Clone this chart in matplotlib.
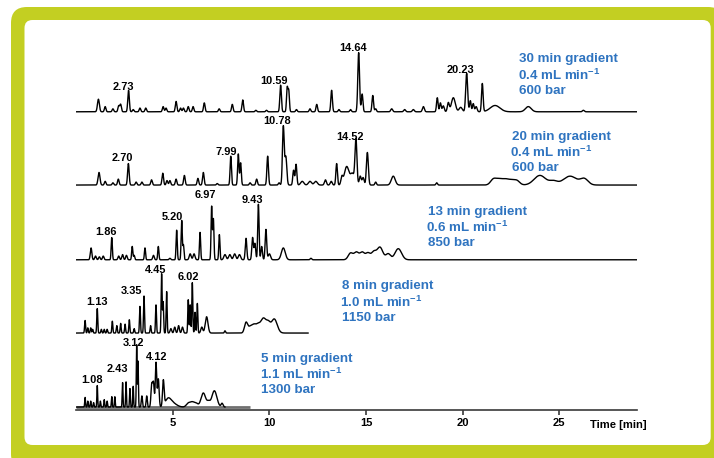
import numpy as np
import matplotlib.pyplot as plt
from matplotlib.patches import FancyBboxPatch

plt.rcParams['font.family'] = ['Liberation Sans', 'DejaVu Sans']
plt.rcParams['font.weight'] = 'bold'
plt.rcParams['mathtext.fontset'] = 'custom'
plt.rcParams['mathtext.rm'] = 'Liberation Sans:bold'
plt.rcParams['mathtext.bf'] = 'Liberation Sans:bold'

## peak tables: retention time [min], height, width
t30_rt = [1.15, 1.5, 1.9, 2.2, 2.3, 2.71, 2.95, 3.3, 3.6, 4.5, 4.65, 5.17, 5.4, 5.55, 5.8, 6.05, 6.63,
          7.4, 8.08, 8.62, 9.3, 9.85, 10.58, 10.92, 11.0, 11.4, 12.1, 12.45, 13.22, 13.6, 14.2, 14.62,
          14.8, 15.35, 15.5, 16.33, 17.0, 17.45, 17.97, 18.69, 18.85, 19.0, 19.26, 19.52, 19.9, 20.21,
          20.4, 20.55, 20.7, 21.02, 21.68, 23.4, 26.25]
t30_h = [0.17, 0.07, 0.04, 0.08, 0.1, 0.29, 0.03, 0.05, 0.05, 0.07, 0.05, 0.14, 0.05, 0.05, 0.07, 0.07, 0.12,
         0.04, 0.1, 0.16, 0.02, 0.02, 0.36, 0.32, 0.28, 0.03, 0.04, 0.1, 0.29, 0.03, 0.03, 0.8,
         0.24, 0.22, 0.04, 0.04, 0.03, 0.03, 0.07, 0.19, 0.12, 0.08, 0.12, 0.19, 0.06, 0.52,
         0.15, 0.11, 0.07, 0.38, 0.085, 0.07, 0.02]
t30_w = [0.05, 0.04, 0.04, 0.04, 0.04, 0.04, 0.04, 0.04, 0.04, 0.04, 0.04, 0.04, 0.04, 0.04, 0.04, 0.04, 0.04,
         0.04, 0.04, 0.04, 0.04, 0.04, 0.04, 0.035, 0.035, 0.04, 0.04, 0.04, 0.04, 0.04, 0.04, 0.045,
         0.04, 0.04, 0.04, 0.05, 0.05, 0.05, 0.05, 0.04, 0.04, 0.05, 0.05, 0.1, 0.08, 0.05,
         0.04, 0.04, 0.05, 0.04, 0.25, 0.15, 0.05]

t20_rt = [1.18, 1.5, 1.9, 2.18, 2.7, 3.1, 3.4, 3.9, 4.48, 4.7, 4.85, 5.17, 5.6, 6.3, 6.58, 7.3, 8.0, 8.39,
          8.51, 9.0, 9.34, 9.91, 10.5, 10.72, 10.85, 11.25, 11.38, 11.7, 12.1, 12.4, 12.9, 13.2, 13.48,
          13.75, 14.0, 14.3, 14.48, 14.7, 14.85, 15.07, 15.5, 16.41, 18.66, 21.6, 21.9, 22.2, 22.5,
          22.8, 24.0, 24.7, 25.56, 26.3]
t20_h = [0.17, 0.05, 0.03, 0.08, 0.29, 0.04, 0.04, 0.07, 0.16, 0.06, 0.06, 0.08, 0.13, 0.09, 0.17, 0.02, 0.39,
         0.42, 0.3, 0.03, 0.08, 0.39, 0.03, 0.79, 0.38, 0.2, 0.28, 0.05, 0.05, 0.05, 0.07, 0.05, 0.29,
         0.1, 0.25, 0.15, 0.6, 0.12, 0.1, 0.44, 0.04, 0.12, 0.03, 0.08, 0.07, 0.07, 0.06,
         0.06, 0.13, 0.05, 0.12, 0.08]
t20_w = [0.05, 0.04, 0.04, 0.04, 0.04, 0.04, 0.04, 0.04, 0.04, 0.04, 0.04, 0.04, 0.04, 0.04, 0.04, 0.04, 0.035,
         0.035, 0.035, 0.04, 0.04, 0.04, 0.04, 0.045, 0.05, 0.04, 0.04, 0.08, 0.08, 0.08, 0.05, 0.05, 0.04,
         0.05, 0.12, 0.1, 0.05, 0.05, 0.05, 0.05, 0.04, 0.1, 0.04, 0.15, 0.15, 0.15, 0.15,
         0.15, 0.3, 0.2, 0.35, 0.2]

t13_rt = [0.77, 1.0, 1.2, 1.4, 1.84, 2.2, 2.4, 2.6, 2.9, 3.0, 3.56, 4.0, 4.25, 4.85, 5.2, 5.46, 5.55, 5.9,
          6.1, 6.41, 7.01, 7.1, 7.41, 7.7, 7.95, 8.2, 8.45, 8.79, 9.13, 9.25, 9.43, 9.6, 9.82, 10.0,
          10.72, 12.15, 14.2, 14.5, 14.8, 15.1, 15.4, 15.72, 16.15, 16.67]
t13_h = [0.16, 0.05, 0.04, 0.05, 0.3, 0.05, 0.07, 0.06, 0.18, 0.06, 0.16, 0.06, 0.18, 0.02, 0.4, 0.53, 0.2, 0.08,
         0.08, 0.37, 0.72, 0.55, 0.34, 0.07, 0.07, 0.08, 0.07, 0.29, 0.3, 0.22, 0.75, 0.18, 0.41, 0.08,
         0.16, 0.02, 0.09, 0.1, 0.1, 0.09, 0.1, 0.17, 0.08, 0.15]
t13_w = [0.04, 0.04, 0.04, 0.04, 0.03, 0.04, 0.04, 0.04, 0.03, 0.03, 0.03, 0.04, 0.03, 0.04, 0.03, 0.03, 0.03, 0.05,
         0.05, 0.03, 0.03, 0.03, 0.03, 0.06, 0.06, 0.06, 0.06, 0.04, 0.04, 0.04, 0.035, 0.04, 0.04, 0.06,
         0.1, 0.04, 0.12, 0.12, 0.12, 0.12, 0.12, 0.15, 0.12, 0.17]

t8_rt = [0.46, 0.6, 0.75, 0.85, 1.09, 1.3, 1.45, 1.6, 1.87, 2.1, 2.3, 2.53, 2.75, 3.0, 3.3, 3.51, 3.85, 4.13,
         4.42, 4.5, 4.68, 4.9, 5.1, 5.3, 5.5, 5.8, 5.9, 6.01, 6.15, 6.27, 6.5, 6.75, 7.7, 8.79, 9.0, 9.2,
         9.4, 9.69, 9.95, 10.25]
t8_h = [0.17, 0.07, 0.07, 0.05, 0.33, 0.05, 0.05, 0.05, 0.16, 0.1, 0.13, 0.12, 0.18, 0.06, 0.36, 0.5, 0.1, 0.38,
        0.8, 0.42, 0.56, 0.06, 0.08, 0.1, 0.08, 0.45, 0.38, 0.68, 0.28, 0.4, 0.08, 0.22, 0.03, 0.14, 0.08, 0.1,
        0.09, 0.2, 0.1, 0.19]
t8_w = [0.025, 0.025, 0.025, 0.025, 0.025, 0.025, 0.025, 0.025, 0.025, 0.025, 0.025, 0.025, 0.025, 0.025, 0.025,
        0.025, 0.025, 0.025, 0.025, 0.025, 0.025, 0.04, 0.04, 0.04, 0.04, 0.025, 0.025, 0.025, 0.025, 0.025,
        0.05, 0.07, 0.03, 0.08, 0.1, 0.1, 0.1, 0.15, 0.1, 0.15]

t5_rt = [0.46, 0.6, 0.75, 0.9, 1.09, 1.25, 1.45, 1.6, 1.84, 2.0, 2.4, 2.58, 2.78, 2.95, 3.13, 3.2, 3.4, 3.65,
         3.91, 4.0, 4.13, 4.25, 4.51, 4.75, 5.0, 5.8, 6.0, 6.2, 6.58, 6.85, 7.15, 7.55]
t5_h = [0.13, 0.08, 0.08, 0.06, 0.29, 0.08, 0.1, 0.08, 0.14, 0.14, 0.33, 0.34, 0.25, 0.28, 0.84, 0.62, 0.15, 0.15,
        0.3, 0.32, 0.6, 0.38, 0.34, 0.1, 0.05, 0.05, 0.06, 0.05, 0.19, 0.06, 0.22, 0.05]
t5_w = [0.02, 0.02, 0.02, 0.02, 0.02, 0.02, 0.02, 0.02, 0.02, 0.02, 0.02, 0.02, 0.02, 0.02, 0.02, 0.02, 0.03, 0.03,
        0.04, 0.04, 0.035, 0.04, 0.04, 0.15, 0.2, 0.1, 0.1, 0.1, 0.12, 0.08, 0.13, 0.05]

## run end times [min]
t_end = [29.0, 29.0, 29.0, 12.0, 7.7]

gradients = ['30 min gradient', '20 min gradient', '13 min gradient', '8 min gradient', '5 min gradient']
flows = ['0.4', '0.4', '0.6', '1.0', '1.1']
pressures = ['600 bar', '600 bar', '850 bar', '1150 bar', '1300 bar']

peak_labels = [['2.73', '10.59', '14.64', '20.23'],
               ['2.70', '7.99', '10.78', '14.52'],
               ['1.86', '5.20', '6.97', '9.43'],
               ['1.13', '3.35', '4.45', '6.02'],
               ['1.08', '2.43', '3.12', '4.12']]

## layout (minutes / trace-spacing units)
baselines = [4.03, 3.04, 2.03, 1.04, 0.04]
label_xy = [[(2.44, 4.37), (10.24, 4.45), (14.34, 4.89), (19.87, 4.59)],
            [(2.41, 3.40), (7.79, 3.49), (10.41, 3.90), (14.17, 3.69)],
            [(1.54, 2.41), (4.97, 2.61), (6.67, 2.91), (9.11, 2.84)],
            [(1.06, 1.46), (2.87, 1.61), (4.13, 1.89), (5.80, 1.80)],
            [(0.83, 0.41), (2.15, 0.56), (2.96, 0.90), (4.17, 0.71)]]
info_xy = [(22.93, 4.74), (22.54, 3.69), (18.19, 2.68), (13.74, 1.67), (9.57, 0.69)]
line_step = 0.212

blue = '#2f74c0'
green = '#c3cf22'

tables = [(t30_rt, t30_h, t30_w), (t20_rt, t20_h, t20_w), (t13_rt, t13_h, t13_w),
          (t8_rt, t8_h, t8_w), (t5_rt, t5_h, t5_w)]

fig = plt.figure(figsize=(7.14, 4.58), dpi=100)

## rounded green frame (in inches, 1 px = 0.01 in), kept behind the axes
outer = FancyBboxPatch((0.11, -0.12), 7.13, 4.63, boxstyle='round,pad=0,rounding_size=0.16',
                       transform=fig.dpi_scale_trans, facecolor=green, edgecolor='none', zorder=-2)
inner = FancyBboxPatch((0.245, 0.13), 6.862, 4.25, boxstyle='round,pad=0,rounding_size=0.08',
                       transform=fig.dpi_scale_trans, facecolor='white', edgecolor='none', zorder=-1)
fig.add_artist(outer)
fig.add_artist(inner)

ax = fig.add_axes([76.2 / 714, 48 / 458, 560.3 / 714, 385 / 458])
ax.patch.set_alpha(0)
ax.set_xlim(0, 29)
ax.set_ylim(0, 385 / 74)

for i in range(5):
    rt, h, w = tables[i]
    t = np.linspace(0, t_end[i], 8000)
    y = np.zeros_like(t)
    for p, a, s in zip(rt, h, w):
        y += a * np.exp(-0.5 * ((t - p) / s) ** 2)
    if i == 4:
        ax.plot([0, 9.0], [baselines[i], baselines[i]], color='#707070', lw=2.0, solid_capstyle='butt')
    ax.plot(t, y + baselines[i], color='black', lw=1.0)
    for txt, (lx, ly) in zip(peak_labels[i], label_xy[i]):
        ax.text(lx, ly, txt, ha='center', va='center', fontsize=7.9, fontweight='bold', color='black')
    ix, iy = info_xy[i]
    ax.text(ix, iy, gradients[i], ha='left', va='center', fontsize=9.6, fontweight='bold', color=blue)
    ax.text(ix - 0.08, iy - line_step, flows[i] + r' mL min$^{-1}$', ha='left', va='center',
            fontsize=9.6, fontweight='bold', color=blue)
    ax.text(ix, iy - 2 * line_step, pressures[i], ha='left', va='center', fontsize=9.6,
            fontweight='bold', color=blue)

for s in ['top', 'right', 'left']:
    ax.spines[s].set_visible(False)
ax.spines['bottom'].set_color('#3a3a3a')
ax.spines['bottom'].set_linewidth(1.2)
ax.set_yticks([])
ax.set_xticks([5, 10, 15, 20, 25])
ax.tick_params(axis='x', direction='out', length=3.5, width=1.2, color='#3a3a3a', pad=2.5,
               labelsize=8)
for lab in ax.get_xticklabels():
    lab.set_fontweight('bold')
ax.text(26.6, -0.2, 'Time [min]', ha='left', va='center', fontsize=8.1, fontweight='bold')

plt.savefig('out.png', dpi=100)
